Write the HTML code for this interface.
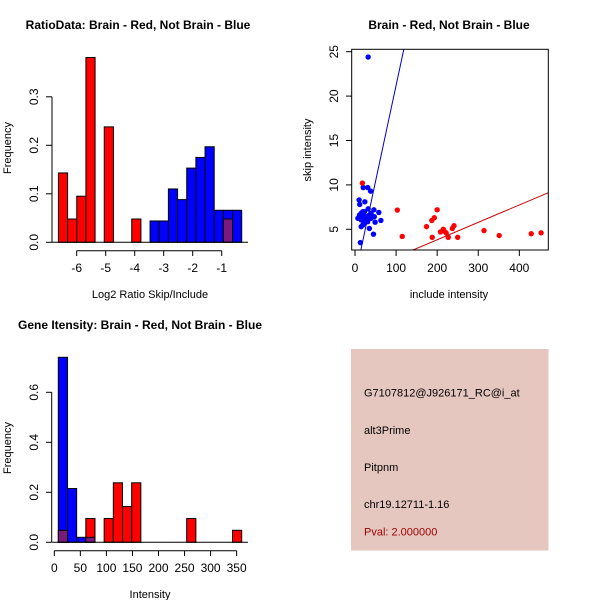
<!DOCTYPE html>
<html><head><meta charset="utf-8"><style>
html,body{margin:0;padding:0;background:#fff;}
svg{display:block;font-family:"Liberation Sans",sans-serif;}
</style></head><body>
<svg id="c" width="600" height="600" viewBox="0 0 600 600"></svg>
<script>
// ---- Panel 1 data: log2 ratio histogram ----
const p1BinStart = -6.63;
const p1BinWidth = 0.316;
const p1RedBins = [0,1,2,3,5,8,18];
const p1RedFreq = [0.143,0.048,0.095,0.381,0.238,0.048,0.048];
const p1BlueBins = [10,11,12,13,14,15,16,17,18,19];
const p1BlueFreq = [0.044,0.044,0.11,0.088,0.153,0.175,0.197,0.066,0.066,0.066];
const p1XTicks = [-6,-5,-4,-3,-2,-1];
const p1YTicks = [0.0,0.1,0.2,0.3];
const p1YLabels = ["0.0","0.1","0.2","0.3"];
// ---- Panel 2 data: scatter ----
const redX = [18,103,115,174,187,193,200,188,208,215,217,222,227,237,241,250,314,351,429,453];
const redY = [10.2,7.17,4.2,5.3,6.0,6.3,7.2,4.1,4.7,5.0,4.8,4.6,4.1,5.1,5.4,4.1,4.85,4.3,4.5,4.6];
const blueX = [32,20,31,38,10,11.5,24,32,46,58,63,49,35,45,13,7,15,19,27,35,39,23,15,19,31,11,23,39,47,27,19,23,15,31,27,11];
const blueY = [24.4,9.7,9.7,9.3,8.3,7.8,8.1,7.3,7.2,6.9,6.0,5.8,5.1,4.45,3.5,6.24,6.05,6.98,6.42,6.6,6.24,5.68,5.3,5.48,5.86,6.6,6.98,6.8,6.42,6.05,6.6,6.24,6.8,6.24,5.86,6.42];
const blueLine = [-0.4, 0.216]; // intercept, slope
const redLine = [-0.1, 0.0196];
const p2XTicks = [0,100,200,300,400];
const p2YTicks = [5,10,15,20,25];
// ---- Panel 3 data: intensity histogram ----
const p3BinStart = 7.7;
const p3BinWidth = 17.6;
const p3BlueBins = [0,1,2,3];
const p3BlueFreq = [0.74,0.215,0.02,0.02];
const p3RedBins = [0,3,5,6,7,8,14,19];
const p3RedFreq = [0.048,0.095,0.095,0.238,0.143,0.238,0.095,0.048];
const p3XTicks = [0,50,100,150,200,250,300,350];
const p3YTicks = [0,0.2,0.4,0.6];
const p3YLabels = ["0.0","0.2","0.4","0.6"];
// ---- Panel 4 text ----
const infoLines = ["G7107812@J926171_RC@i_at","alt3Prime","Pitpnm","chr19.12711-1.16"];
const pvalText = "Pval: 2.000000";

const svg = document.getElementById('c');
const NS = 'http://www.w3.org/2000/svg';
function mk(tag, attrs, parent){const e=document.createElementNS(NS,tag);for(const k in attrs)e.setAttribute(k,attrs[k]);(parent||svg).appendChild(e);return e;}
function txt(s,x,y,attrs,parent){const e=mk('text',Object.assign({x:x,y:y,'font-size':11,fill:'#000'},attrs),parent);e.textContent=s;return e;}
const PURPLE='#7a1a7a';

// Panel 1
const g1 = mk('g',{});


const x1 = v => 76.7 + (v + 6) * 29;
const y1 = v => 242.3 - v * 485;
function bar1(bin,f,color,name){
  const l=x1(p1BinStart+bin*p1BinWidth), r=x1(p1BinStart+(bin+1)*p1BinWidth);
  const e=mk('rect',{x:l,y:y1(f),width:r-l,height:y1(0)-y1(f),fill:color,stroke:'#000','stroke-width':1},g1);
  
  
}
p1BlueBins.forEach((b,i)=>bar1(b,p1BlueFreq[i],'#0000ff','blue-bar'));
p1RedBins.forEach((b,i)=>{
  const j=p1BlueBins.indexOf(b);
  if(j>=0) bar1(b,Math.min(p1RedFreq[i],p1BlueFreq[j]),PURPLE,'overlap-bar');
  else bar1(b,p1RedFreq[i],'#ff0000','red-bar');
});
mk('line',{x1:x1(p1XTicks[0]),x2:x1(p1XTicks[p1XTicks.length-1]),y1:250.7,y2:250.7,stroke:'#000'},g1);
p1XTicks.forEach(t=>{mk('line',{x1:x1(t),x2:x1(t),y1:250.7,y2:256,stroke:'#000'},g1);txt(String(t),x1(t),272,{'text-anchor':'middle','font-size':12},g1);});
mk('line',{x1:52,x2:52,y1:y1(0),y2:y1(0.3),stroke:'#000'},g1);
mk('line',{x1:52,x2:248,y1:y1(0),y2:y1(0),stroke:'#000'},g1);
p1YTicks.forEach((t,i)=>{mk('line',{x1:46,x2:52,y1:y1(t),y2:y1(t),stroke:'#000'},g1);txt(p1YLabels[i],38,y1(t),{'text-anchor':'middle','font-size':12,transform:`rotate(-90 38 ${y1(t)})`},g1);});
txt('RatioData: Brain - Red, Not Brain - Blue',138,29,{'text-anchor':'middle','font-weight':'bold','font-size':12},g1);
txt('Log2 Ratio Skip/Include',150,298,{'text-anchor':'middle'},g1);
txt('Frequency',11,148,{'text-anchor':'middle',transform:'rotate(-90 11 148)'},g1);

// Panel 2
const g2 = mk('g',{});


const x2 = v => 355 + v * 0.4108;
const y2 = v => 229.3 - (v - 5) * 8.88;
mk('clipPath',{id:'cp'},g2);
mk('rect',{x:351.7,y:49.3,width:196.6,height:200.7},document.getElementById('cp'));
function drawLine(p,color,name){
  const xa=-10,xb=480;
  const e=mk('line',{x1:x2(xa),y1:y2(p[0]+p[1]*xa),x2:x2(xb),y2:y2(p[0]+p[1]*xb),stroke:color,'stroke-width':1,'clip-path':'url(#cp)'},g2);
  
  
}
blueX.forEach((v,i)=>{const e=mk('circle',{cx:x2(v),cy:y2(blueY[i]),r:2.7,fill:'#0000ff','clip-path':'url(#cp)'},g2);});
redX.forEach((v,i)=>{const e=mk('circle',{cx:x2(v),cy:y2(redY[i]),r:2.7,fill:'#ff0000','clip-path':'url(#cp)'},g2);});
drawLine(blueLine,'#0000cc','blue-fit-line');
drawLine(redLine,'#cc0000','red-fit-line');
mk('rect',{x:351.7,y:49.3,width:196.6,height:200.7,fill:'none',stroke:'#000'},g2);
p2XTicks.forEach(t=>{mk('line',{x1:x2(t),x2:x2(t),y1:250,y2:256,stroke:'#000'},g2);txt(String(t),x2(t),272,{'text-anchor':'middle','font-size':12},g2);});
p2YTicks.forEach(t=>{mk('line',{x1:346,x2:351.7,y1:y2(t),y2:y2(t),stroke:'#000'},g2);txt(String(t),338,y2(t),{'text-anchor':'middle','font-size':12,transform:`rotate(-90 338 ${y2(t)})`},g2);});
txt('Brain - Red, Not Brain - Blue',449,29,{'text-anchor':'middle','font-weight':'bold','font-size':12},g2);
txt('include intensity',449,298,{'text-anchor':'middle'},g2);
txt('skip intensity',311,150,{'text-anchor':'middle',transform:'rotate(-90 311 150)'},g2);

// Panel 3
const g3 = mk('g',{});


const x3 = v => 54.3 + v * 0.521;
const y3 = v => 542.3 - v * 250;
function bar3(bin,f,color,name){
  const l=x3(p3BinStart+bin*p3BinWidth), r=x3(p3BinStart+(bin+1)*p3BinWidth);
  const e=mk('rect',{x:l,y:y3(f),width:r-l,height:y3(0)-y3(f),fill:color,stroke:'#000','stroke-width':1},g3);
  
  
}
p3BlueBins.forEach((b,i)=>bar3(b,p3BlueFreq[i],'#0000ff','blue-bar'));
p3RedBins.forEach((b,i)=>{
  const j=p3BlueBins.indexOf(b);
  if(j>=0){ if(p3RedFreq[i]>p3BlueFreq[j]) bar3(b,p3RedFreq[i],'#ff0000','red-bar'); bar3(b,Math.min(p3RedFreq[i],p3BlueFreq[j]),PURPLE,'overlap-bar'); }
  else bar3(b,p3RedFreq[i],'#ff0000','red-bar');
});
mk('line',{x1:52,x2:248,y1:y3(0),y2:y3(0),stroke:'#000'},g3);
mk('line',{x1:x3(0),x2:x3(350),y1:550.7,y2:550.7,stroke:'#000'},g3);
p3XTicks.forEach(t=>{mk('line',{x1:x3(t),x2:x3(t),y1:550.7,y2:556,stroke:'#000'},g3);txt(String(t),x3(t),572,{'text-anchor':'middle','font-size':12},g3);});
mk('line',{x1:51.7,x2:51.7,y1:y3(0),y2:y3(0.6),stroke:'#000'},g3);
p3YTicks.forEach((t,i)=>{mk('line',{x1:46,x2:51.7,y1:y3(t),y2:y3(t),stroke:'#000'},g3);txt(p3YLabels[i],38,y3(t),{'text-anchor':'middle','font-size':12,transform:`rotate(-90 38 ${y3(t)})`},g3);});
txt('Gene Itensity: Brain - Red, Not Brain - Blue',140,329,{'text-anchor':'middle','font-weight':'bold','font-size':12},g3);
txt('Intensity',150,598,{'text-anchor':'middle'},g3);
txt('Frequency',11,448,{'text-anchor':'middle',transform:'rotate(-90 11 448)'},g3);

// Panel 4
const g4 = mk('g',{});


mk('rect',{x:351,y:349,width:197.5,height:201.5,fill:'#e6c7c0'},g4);
const ys=[396.7,434,471,508];
infoLines.forEach((s,i)=>{const e=txt(s,364,ys[i],{},g4);});
const pv=txt(pvalText,364,535.5,{fill:'#990000'},g4);


</script>
</body></html>
